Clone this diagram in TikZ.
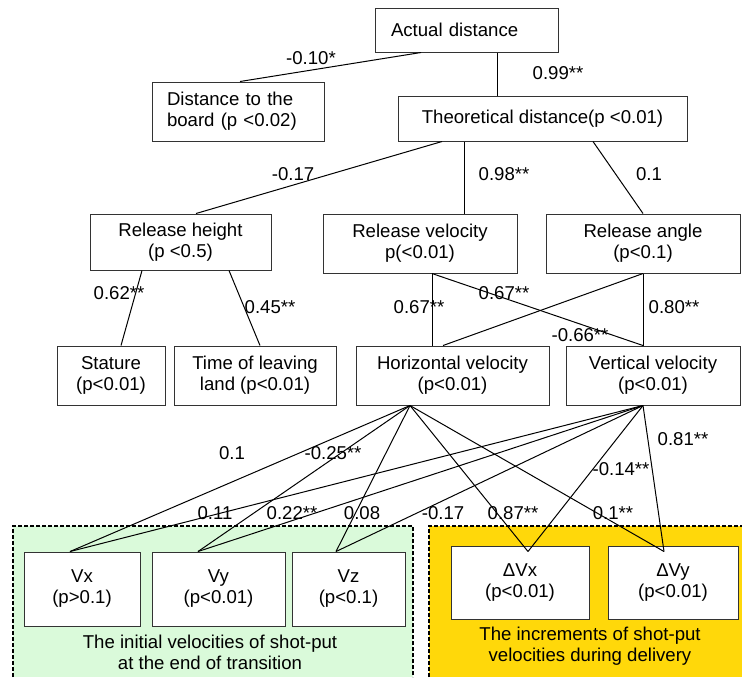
\documentclass[tikz,border=0pt]{standalone}
\usepackage{fontspec}
\setmainfont{Liberation Sans}

\begin{document}
\begin{tikzpicture}[x=0.5pt, y=-0.5pt, line width=0.5pt,
    every node/.style={font=\fontsize{9.3}{10.5}\selectfont},
    box/.style={draw=black!80, fill=white, align=center, inner sep=0pt},
    lab/.style={inner sep=0pt},
    region/.style={line width=0.8pt, dash pattern=on 2pt off 1pt}]
          \definecolor{lightgreen}{RGB}{218,250,218}
          \definecolor{gold}{RGB}{255,216,10}
          \useasboundingbox (0,0) rectangle (742,677);
          % the two groups at the bottom
          \fill[lightgreen] (13,526) rectangle (413,677);
          \fill[gold] (429,526) rectangle (742,677);
          \draw[region] (13,677) -- (13,526) -- (413,526) -- (413,677);
          \draw[region] (429,677) -- (429,526) -- (742,526);
          \node[align=center] (gtxt) at (210,652) {The initial velocities of shot-put\\at the end of transition};
          \node[align=center] (ytxt) at (590,646) {The increments of shot-put\\velocities during delivery};

          \node[box, text width=75.5pt, inner xsep=8pt, align=left, minimum height=22pt] (ad) at (466.5,30) {Actual distance};
          \node[box, text width=71pt, inner xsep=7.5pt, align=left, minimum height=29.5pt] (dtb) at (238,111.5) {Distance to the\\board (p <0.02)};
          \node[box, minimum width=144.5pt, minimum height=22.5pt] (td) at (542.5,118.5) {Theoretical distance(p <0.01)};
          \node[box, minimum width=90.5pt, minimum height=28pt] (rh) at (180.5,242) {Release height\\(p <0.5)};
          \node[box, minimum width=97pt, minimum height=29.5pt] (rv) at (420,243.5) {Release velocity\\p(<0.01)};
          \node[box, minimum width=97pt, minimum height=29.5pt] (ra) at (643,243.5) {Release angle\\(p<0.1)};
          \node[box, minimum width=54pt, minimum height=29.5pt] (st) at (111,375.5) {Stature\\(p<0.01)};
          \node[box, minimum width=81pt, minimum height=29.5pt] (tl) at (255,375.5) {Time of leaving\\land (p<0.01)};
          \node[box, minimum width=96.5pt, minimum height=29.5pt] (hv) at (452.5,375.5) {Horizontal velocity\\(p<0.01)};
          \node[box, minimum width=87pt, minimum height=29.5pt] (vv) at (653,375.5) {Vertical velocity\\(p<0.01)};
          \node[box, minimum width=58pt, minimum height=37pt] (vx) at (82,589) {Vx\\(p>0.1)};
          \node[box, minimum width=66.5pt, minimum height=37pt] (vy) at (218.5,589) {Vy\\(p<0.01)};
          \node[box, minimum width=56.5pt, minimum height=37pt] (vz) at (348.5,589) {Vz\\(p<0.1)};
          \node[box, minimum width=69pt, minimum height=36.5pt] (dvx) at (520,582.5) {ΔVx\\(p<0.01)};
          \node[box, minimum width=65pt, minimum height=36.5pt] (dvy) at (673,582.5) {ΔVy\\(p<0.01)};

          \draw ([xshift=-22.75pt]ad.south) -- ([xshift=1pt]dtb.north);
          \draw ([xshift=15.25pt]ad.south) -- ([xshift=-22.75pt]td.north);
          \draw ([xshift=-50.25pt]td.south) -- ([xshift=7.75pt]rh.north);
          \draw ([xshift=-39.25pt]td.south) -- ([xshift=22pt]rv.north);
          \draw ([xshift=25.25pt]td.south) -- (ra.north);
          \draw ([xshift=-19.25pt]rh.south) -- ([xshift=5pt]st.north);
          \draw ([xshift=24.25pt]rh.south) -- ([xshift=2.5pt]tl.north);
          \draw ([xshift=6pt]rv.south) -- ([xshift=-10.25pt]hv.north);
          \draw ([xshift=6pt]rv.south) -- ([xshift=-5pt]vv.north);
          \draw (ra.south) -- ([xshift=-4.75pt]hv.north);
          \draw (ra.south) -- ([xshift=-5pt]vv.north);

          \coordinate (hvb) at ([xshift=-21.25pt]hv.south);
          \coordinate (vvb) at ([xshift=-5pt]vv.south);
          \coordinate (vxt) at ([xshift=-6pt]vx.north);
          \coordinate (vyt) at ([xshift=-10.25pt]vy.north);
          \coordinate (vzt) at ([xshift=-6.25pt]vz.north);
          \coordinate (dvxt) at ([xshift=4pt, yshift=-3pt]dvx.north);
          \coordinate (dvyt) at ([xshift=-4.5pt, yshift=-3pt]dvy.north);
          \foreach \t in {vxt,vyt,vzt,dvxt,dvyt}{
            \draw (hvb) -- (\t);
            \draw (vvb) -- (\t);
          }

          % path coefficients
          \node[lab] (k1) at (311,58) {-0.10*};
          \node[lab] (k2) at (558,73) {0.99**};
          \node[lab] (k3) at (293,174) {-0.17};
          \node[lab] (k4) at (504,174) {0.98**};
          \node[lab] (k5) at (649,174) {0.1};
          \node[lab] (k6) at (119,293) {0.62**};
          \node[lab] (k7) at (270,307) {0.45**};
          \node[lab] (k8) at (419,307) {0.67**};
          \node[lab] (k9) at (504,293) {0.67**};
          \node[lab] (k10) at (580,335) {-0.66**};
          \node[lab] (k11) at (674,307) {0.80**};
          \node[lab] (k12) at (232,453) {0.1};
          \node[lab] (k13) at (333,453) {-0.25**};
          \node[lab] (k14) at (683,439) {0.81**};
          \node[lab] (k15) at (621,469) {-0.14**};
          \node[lab] (k16) at (215,513) {0.11};
          \node[lab] (k17) at (292,513) {0.22**};
          \node[lab] (k18) at (362,513) {0.08};
          \node[lab] (k19) at (443,513) {-0.17};
          \node[lab] (k20) at (513,513) {0.87**};
          \node[lab] (k21) at (613,513) {0.1**};
    \end{tikzpicture}
\end{document}
